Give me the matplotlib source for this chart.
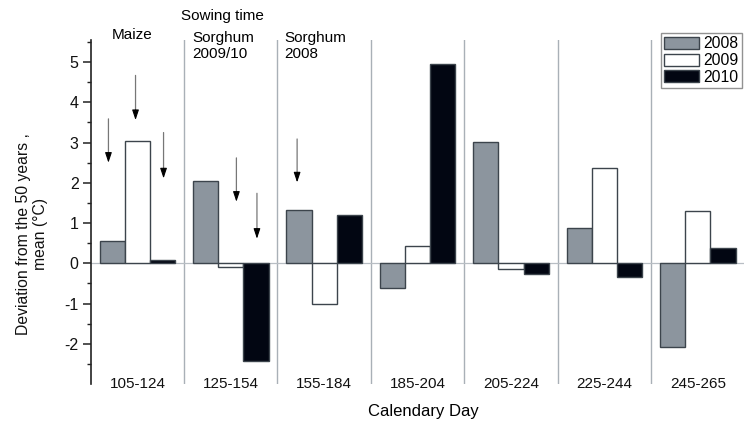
import matplotlib
matplotlib.use("Agg")
import matplotlib.pyplot as plt
import numpy as np
from matplotlib.ticker import FixedLocator

plt.rcParams['font.family'] = ['Liberation Sans', 'DejaVu Sans']
plt.rcParams['axes.unicode_minus'] = False

categories = ["105-124", "125-154", "155-184", "185-204", "205-224", "225-244", "245-265"]
years = ["2008", "2009", "2010"]
v2008 = [0.56, 2.05, 1.32, -0.61, 3.02, 0.88, -2.08]
v2009 = [3.03, -0.08, -1.02, 0.43, -0.13, 2.37, 1.30]
v2010 = [0.07, -2.44, 1.21, 4.95, -0.27, -0.33, 0.38]
series = [v2008, v2009, v2010]
colors = ["#8c959e", "#ffffff", "#020612"]
edge = "#3c444c"
yticks = [-2, -1, 0, 1, 2, 3, 4, 5]
yminor = [-2.5, -1.5, -0.5, 0.5, 1.5, 2.5, 3.5, 4.5, 5.5]

# sowing-time arrows: (x, y_start, y_end) in data units
arrows = [(-0.31, 3.59, 2.50), (-0.02, 4.67, 3.56), (0.28, 3.25, 2.11),
          (1.06, 2.62, 1.53), (1.28, 1.74, 0.61), (1.71, 3.09, 2.01)]

fig = plt.figure(figsize=(7.44, 4.23), dpi=100)
ax = fig.add_axes([90.7/744, 1-384/423, (744.5-90.7)/744, (384-40)/423])

x = np.arange(len(categories))
w = 0.27
for i, (vals, c) in enumerate(zip(series, colors)):
    ax.bar(x + (i-1)*w, vals, w, color=c, edgecolor=edge, linewidth=1.0,
           label=years[i], zorder=3)

ax.axhline(0, color="#b8bec4", lw=0.9, zorder=2)
for s in np.arange(0.5, len(categories)-1, 1.0):
    ax.axvline(s, color="#a9b0b7", lw=1.0, zorder=1)

ax.set_xlim(-0.5, len(categories)-0.5)
ax.set_ylim(-3.0, 5.55)
for sp in ["top", "right", "bottom"]:
    ax.spines[sp].set_visible(False)
ax.spines["left"].set_linewidth(1.2)
ax.spines["left"].set_color("#222222")
ax.set_xticks([])
ax.yaxis.set_major_locator(FixedLocator(yticks))
ax.yaxis.set_minor_locator(FixedLocator(yminor))
ax.tick_params(axis="y", which="major", length=5.8, width=1.1, direction="out",
               labelsize=11.5, pad=2.9, color="#222222", labelcolor="#111111")
ax.tick_params(axis="y", which="minor", length=2.9, width=1.0, direction="out",
               color="#222222")

for xi, lab in zip(x, categories):
    ax.text(xi, 0.0, lab, transform=ax.get_xaxis_transform(), ha="center",
            va="center", fontsize=11, color="#111111")

for (ax_x, y0, y1) in arrows:
    ax.annotate("", xy=(ax_x, y1 + 0.15), xytext=(ax_x, y0),
                arrowprops=dict(arrowstyle="-", color="#777777", lw=0.9,
                                shrinkA=0, shrinkB=0))
    ax.annotate("", xy=(ax_x, y1), xytext=(ax_x, y1 + 0.25),
                arrowprops=dict(arrowstyle="-|>,head_length=0.75,head_width=0.25",
                                color="black", lw=0.8,
                                mutation_scale=8, shrinkA=0, shrinkB=0))

fig.text(222/744, 1-16/423, "Sowing time", ha="center", va="center", fontsize=11)
fig.text(112/744, 1-35/423, "Maize", ha="left", va="center", fontsize=11)
fig.text(192/744, 1-46/423, "Sorghum\n2009/10", ha="left", va="center",
         fontsize=11, linespacing=1.1)
fig.text(284/744, 1-46/423, "Sorghum\n2008", ha="left", va="center",
         fontsize=11, linespacing=1.1)

ax.set_ylabel("Deviation from the 50 years ,\nmean (°C)", fontsize=11.3,
              linespacing=1.15, color="#111111")
ax.yaxis.set_label_coords(-0.066, 0.436)

fig.text(423/744, 1-411/423, "Calendary Day", ha="center", va="center", fontsize=12)

leg = fig.legend(loc="upper left", bbox_to_anchor=(661/744, 1-33/423),
                 fontsize=11.3, frameon=True, fancybox=False, handlelength=2.2,
                 handleheight=0.8, labelspacing=0.12, handletextpad=0.3,
                 borderpad=0.2, borderaxespad=0)
leg.get_frame().set_edgecolor("#777777")
leg.get_frame().set_linewidth(1.0)

fig.savefig("out.png", dpi=100)
